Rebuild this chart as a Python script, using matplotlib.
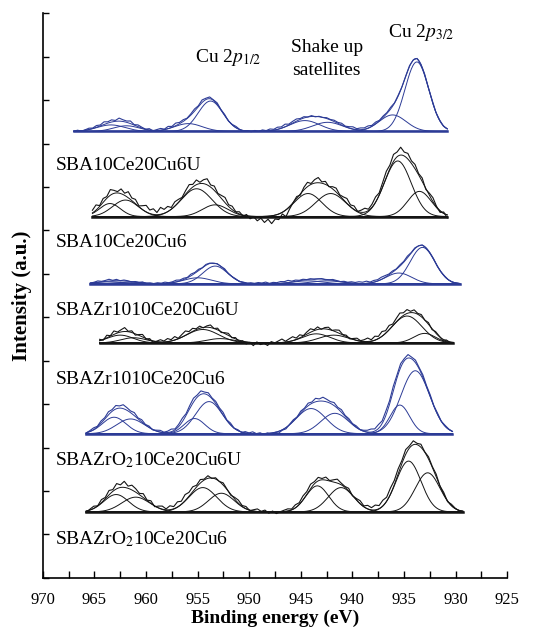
import numpy as np
import matplotlib.pyplot as plt
from matplotlib.ticker import MultipleLocator

plt.rcParams['font.family'] = ['Liberation Serif', 'DejaVu Serif']
plt.rcParams['mathtext.fontset'] = 'stix'

# stacked baselines (a.u.) and energy range of each spectrum, top to bottom
offsets = [10.28, 8.32, 6.77, 5.41, 3.32, 1.52]
e_start = [967.0, 965.2, 965.4, 964.5, 965.8, 965.8]
e_end = [930.8, 930.8, 929.6, 930.2, 930.3, 929.3]

# fitted components: (centre eV, height, sigma)
peaks_a = [(933.75, 1.60, 1.15), (936.1, 0.38, 1.3), (953.75, 0.70, 1.2), (955.9, 0.18, 1.35),
           (944.6, 0.25, 1.45), (942.4, 0.21, 1.45), (963.4, 0.15, 1.35), (961.9, 0.13, 1.25)]
peaks_b = [(935.6, 1.28, 1.3), (933.5, 0.58, 1.15), (955.1, 0.64, 1.5), (953.3, 0.27, 1.25),
           (944.3, 0.53, 1.35), (942.1, 0.53, 1.45), (963.5, 0.30, 1.0), (962.0, 0.38, 1.25)]
peaks_c = [(933.2, 0.84, 1.2), (935.5, 0.25, 1.25), (953.3, 0.41, 1.2), (955.0, 0.14, 1.35),
           (944.3, 0.07, 1.45), (942.5, 0.07, 1.45), (963.5, 0.05, 1.35), (961.8, 0.04, 1.35)]
peaks_d = [(934.7, 0.62, 1.45), (933.0, 0.22, 1.05), (954.5, 0.31, 1.55), (952.8, 0.10, 1.35),
           (943.5, 0.21, 1.35), (941.8, 0.18, 1.45), (962.5, 0.18, 1.25), (961.2, 0.12, 1.25)]
peaks_e = [(933.9, 1.45, 1.4), (935.4, 0.66, 0.95), (953.9, 0.74, 1.3), (955.3, 0.35, 1.0),
           (944.0, 0.58, 1.45), (941.7, 0.47, 1.35), (963.1, 0.38, 1.15), (961.5, 0.34, 1.35)]
peaks_f = [(934.55, 1.17, 1.2), (932.7, 0.90, 1.2), (954.5, 0.56, 1.35), (952.7, 0.43, 1.25),
           (943.4, 0.60, 1.1), (941.1, 0.56, 1.25), (962.9, 0.40, 1.2), (961.0, 0.34, 1.35)]

# measured-minus-fit residuals (hundredths of a.u.), evenly spread over each range
resid_a = [0, 2, -1, 1, 3, 1, 4, 2, 6, 3, 5, 2, 7, 4, 3, 6, 1, 4, 2, 0,
           3, -1, 2, 4, 1, 5, 2, 6, 3, 4, 1, 3, 5, 2, 6, 3, 4, 1, 3, 0,
           2, -1, 1, 3, 0, -2, 1, -1, 2, 0, 3, 1, 4, 2, 5, 3, 6, 2, 4, 5,
           2, 3, 0, 2, -1, 1, 0, 2, 1, 3, 2, 4, 1, 3, 5, 2, 4, 3, 5, 2,
           4, 1, 3, 2, 4, 1, 2, 0, 1, 2, 0, 1, -1, 1, 0, 2, 0, 1, -1, 0]
resid_b = [6, 12, 2, 9, 4, 13, 7, 3, 11, 5, 14, 6, 10, 2, 9, 15, 8, 13, 5, 16,
           9, 12, 4, 10, 7, 2, 8, 13, 6, 11, 3, 9, 14, 5, 10, 2, 7, 12, 4, 8,
           1, 5, -2, 3, -6, -1, -10, -4, -14, -7, -18, -9, -13, -4, -16, -6, 0, 4, -3, 6,
           10, 2, 8, 12, 3, 7, -1, 5, 9, 2, 6, 11, 4, 8, 0, 5, 9, 3, 7, 12,
           5, 10, 14, 8, 16, 11, 18, 9, 13, 6, 10, 3, 8, -2, 5, 9, 1, -4, 3, -7]
resid_c = [0, 1, 3, 1, 2, 4, 1, 3, 0, 2, 1, -1, 1, 0, 2, -1, 1, 0, 2, 1,
           3, 1, 2, 4, 2, 3, 1, 4, 2, 3, 0, 2, 1, -1, 1, 0, 2, -1, 0, 1,
           -1, 1, 0, 2, 1, 3, 2, 4, 1, 3, 2, 4, 3, 5, 2, 3, 1, 2, 0, 1,
           -1, 0, 1, -1, 0, 2, 1, 0, 2, 1, 3, 2, 4, 3, 5, 2, 4, 3, 5, 4,
           2, 3, 1, 3, 2, 4, 1, 2, 0, 1, -1, 0, 1, -1, 0, 1, 0, -1, 0, 0]
resid_d = [3, -2, 6, 1, 8, 2, 5, 9, 1, 4, -3, 2, 6, -1, 3, -4, 1, 5, 2, 7,
           3, 8, 1, 6, 10, 4, 7, 2, 5, -1, 3, 6, 0, 4, -2, 2, 5, -1, 3, -3,
           1, -5, 0, -7, 2, -4, -1, -6, 3, 0, 4, 8, 2, 6, 9, 3, 7, 1, 5, 8,
           2, 6, -1, 3, 5, 0, 4, 7, 1, 3, -2, 2, 5, 1, 4, 8, 3, 9, 5, 11,
           6, 10, 4, 8, 12, 6, 9, 3, 7, 2, 5, 0, 4, -2, 3, 1, -3, 2, -1, 0]
resid_e = [-1, 2, 4, 1, 5, 3, 7, 4, 8, 5, 9, 6, 4, 7, 2, 5, 1, 3, -1, 2,
           4, 1, 3, 6, 2, 5, 8, 4, 7, 9, 5, 8, 4, 6, 2, 5, 3, 6, 1, 4,
           0, 2, -1, 3, 1, 4, 0, 2, -2, 1, -3, 0, -4, -1, -3, 1, 3, 0, 4, 2,
           6, 3, 8, 5, 9, 6, 4, 7, 3, 6, 2, 4, 1, 3, 0, 2, 4, 7, 5, 9,
           6, 10, 8, 11, 7, 9, 5, 8, 4, 6, 3, 5, 2, 4, 1, 3, 0, 2, 1, 0]
resid_f = [-3, 2, 5, 0, 7, 3, 10, 4, 12, 6, 14, 5, 11, 8, 3, 9, 1, 6, -2, 4,
           7, 2, 9, 5, 12, 7, 14, 9, 11, 4, 8, 2, 6, -1, 3, 0, 5, 1, -2, 4,
           7, 2, 5, -1, 3, 6, 1, 4, -3, 2, -4, 0, 3, 5, 2, 7, 4, 9, 6, 10,
           5, 8, 3, 7, 1, 5, 9, 4, 2, 6, -1, 3, 7, 2, 8, 5, 11, 7, 13, 9,
           14, 10, 12, 7, 11, 5, 9, 3, 7, 1, 5, 2, 6, 0, 4, -2, 3, 1, -1, 0]

labels = ['SBA10Ce20Cu6U', 'SBA10Ce20Cu6', 'SBAZr1010Ce20Cu6U', 'SBAZr1010Ce20Cu6',
          'SBAZrO$_2$10Ce20Cu6U', 'SBAZrO$_2$10Ce20Cu6']
label_y = [9.40, 7.63, 6.06, 4.47, 2.60, 0.78]

all_peaks = [peaks_a, peaks_b, peaks_c, peaks_d, peaks_e, peaks_f]
all_resid = [resid_a, resid_b, resid_c, resid_d, resid_e, resid_f]

blue = '#2c3b96'
black = '#141414'
colors = [blue, black, blue, black, blue, black]


def gauss(x, c, h, s):
    return h * np.exp(-(x - c) ** 2 / (2 * s ** 2))


fig = plt.figure(figsize=(5.5, 6.33), dpi=100)
ax = fig.add_axes([0.078, 0.087, 0.844, 0.892])

for off, e0, e1, peaks, resid, col in zip(offsets, e_start, e_end, all_peaks, all_resid, colors):
    x = np.linspace(e0, e1, 500)
    env = np.zeros_like(x)
    for c, h, s in peaks:
        comp = gauss(x, c, h, s)
        env += comp
        ax.plot(x, off + comp, color=col, lw=0.7)
    ax.plot([e0, e1], [off, off], color=col, lw=1.8)
    ax.plot(x, off + env, color=col, lw=0.7)
    xr = np.linspace(e0, e1, len(resid))
    yr = sum(gauss(xr, c, h, s) for c, h, s in peaks) + np.array(resid) / 100.0
    ax.plot(xr, off + yr, color=col, lw=0.8)

for lab, y in zip(labels, label_y):
    ax.text(968.8, y, lab, fontsize=14, ha='left', va='baseline')

ax.text(952.0, 11.87, r'Cu 2$p_{1/2}$', fontsize=14, ha='center', va='baseline')
ax.text(942.5, 12.12, 'Shake up', fontsize=14, ha='center', va='baseline')
ax.text(942.5, 11.59, 'satellites', fontsize=14, ha='center', va='baseline')
ax.text(933.3, 12.45, r'Cu 2$p_{3/2}$', fontsize=14, ha='center', va='baseline')

ax.set_xlim(970, 925)
ax.set_ylim(0, 13)
ax.xaxis.set_major_locator(MultipleLocator(5))
ax.xaxis.set_minor_locator(MultipleLocator(2.5))
ax.set_yticks(np.arange(0, 14))
ax.set_yticklabels([])
ax.tick_params(axis='x', which='both', direction='in', labelsize=12, pad=10)
ax.tick_params(axis='x', which='both', length=5, width=1)
ax.tick_params(axis='y', direction='in', length=4, width=1)
for side in ['top', 'right']:
    ax.spines[side].set_visible(False)
ax.spines['left'].set_linewidth(1.2)
ax.spines['bottom'].set_linewidth(1.2)

ax.set_xlabel('Binding energy (eV)', fontsize=14, fontweight='bold', labelpad=1)
ax.set_ylabel('Intensity (a.u.)', fontsize=15, fontweight='bold', labelpad=4)

fig.savefig('out.png', dpi=100)
